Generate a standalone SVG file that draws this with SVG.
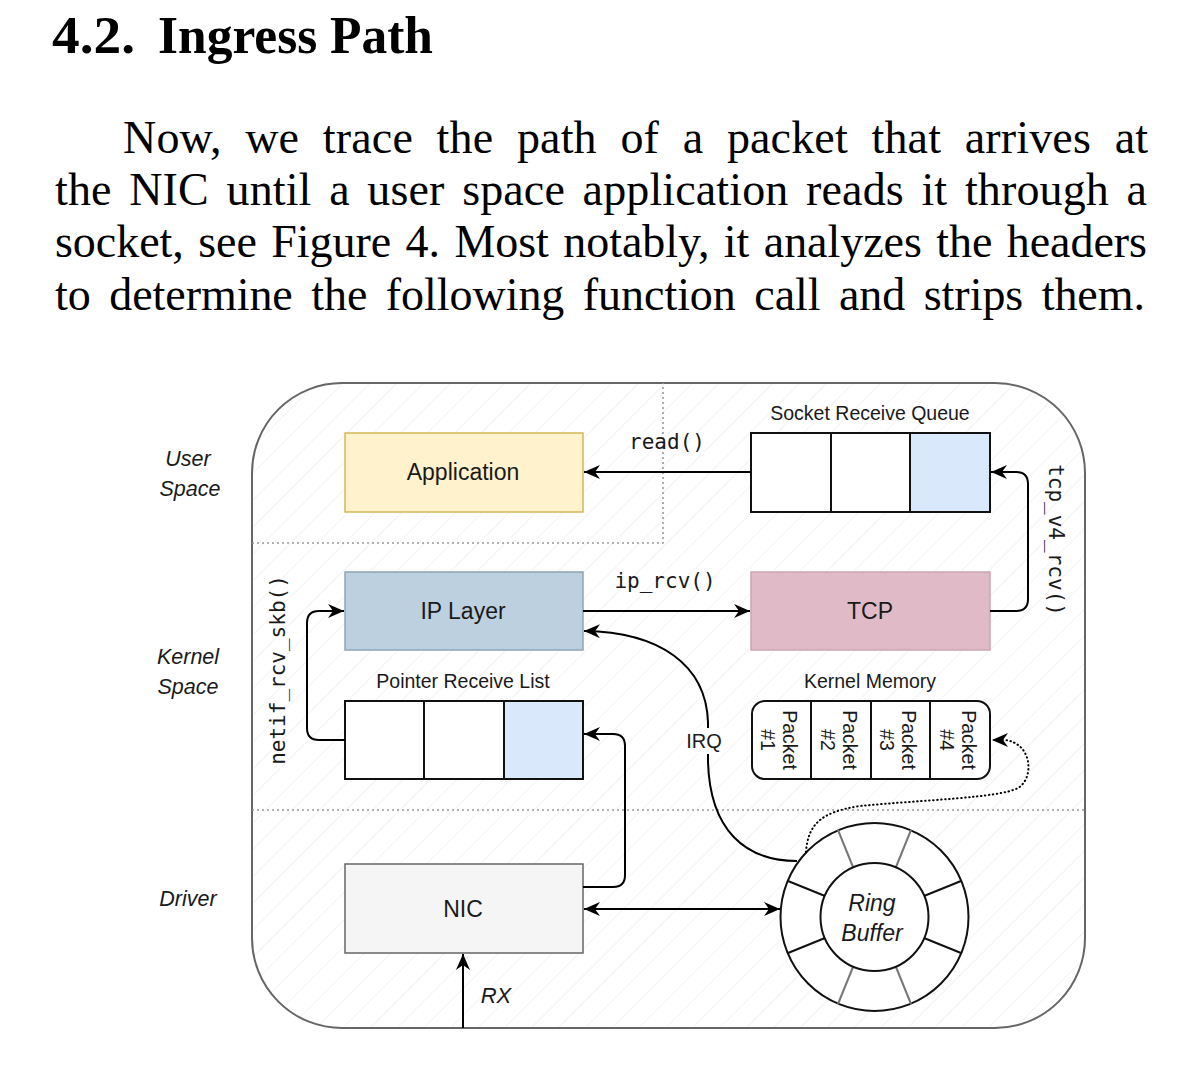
<svg xmlns="http://www.w3.org/2000/svg" width="1200" height="1082" viewBox="0 0 1200 1082">
<style>
.ser{font-family:"Liberation Serif","Times New Roman",serif;fill:#000}
.para{font-family:"Liberation Serif","Times New Roman",serif;fill:#000;font-size:46px}
.sans{font-family:"Liberation Sans",Arial,Helvetica,sans-serif;fill:#1a1a1a}
.mono{font-family:"DejaVu Sans Mono","Liberation Mono",monospace;fill:#1a1a1a;font-size:21px}
.lbl{font-size:19.5px;text-anchor:middle}
.big{font-size:23px;text-anchor:middle}
.side{font-size:21.5px;font-style:italic;text-anchor:middle}
.cell{fill:#fff;stroke:#111;stroke-width:2}
.cellb{fill:#dae8fc;stroke:#111;stroke-width:2}
.conn{fill:none;stroke:#000;stroke-width:2}
.dot{fill:none;stroke:#999;stroke-width:1.6;stroke-dasharray:2 3}
.spk{stroke:#111;stroke-width:2}
.spkg{stroke:#777;stroke-width:2}
</style>
<defs>
<pattern id="hatch" width="19" height="19" patternUnits="userSpaceOnUse" patternTransform="rotate(45)">
<rect width="19" height="19" fill="#fff"/>
<line x1="0" y1="0" x2="0" y2="19" stroke="#efefef" stroke-width="1.5"/>
</pattern>
<marker id="arr" viewBox="0 0 16 14" refX="16" refY="7" markerWidth="16" markerHeight="14" markerUnits="userSpaceOnUse" orient="auto-start-reverse">
<path d="M0,0 L16,7 L0,14 L5,7 z" fill="#000"/>
</marker>
</defs>

<g id="heading">
<text class="ser" x="52" y="53" font-size="52" font-weight="bold" textLength="83" lengthAdjust="spacingAndGlyphs">4.2.</text>
<text class="ser" x="158" y="53" font-size="52" font-weight="bold" textLength="275" lengthAdjust="spacingAndGlyphs">Ingress Path</text>
</g>
<g id="paragraph">
<text class="para" x="123" y="153" word-spacing="12" textLength="1025" lengthAdjust="spacing">Now, we trace the path of a packet that arrives at</text>
<text class="para" x="55" y="205" word-spacing="6" textLength="1092" lengthAdjust="spacing">the NIC until a user space application reads it through a</text>
<text class="para" x="55" y="257" word-spacing="3" textLength="1092" lengthAdjust="spacing">socket, see Figure 4. Most notably, it analyzes the headers</text>
<text class="para" x="55" y="310" word-spacing="7" textLength="1090" lengthAdjust="spacing">to determine the following function call and strips them.</text>
</g>

<g id="container">
<rect x="252" y="383" width="833" height="645" rx="90" ry="90" fill="url(#hatch)" stroke="#666" stroke-width="2"/>
<path class="dot" d="M252,543 L663,543 L663,383"/>
<path class="dot" d="M252,810 L1085,810"/>
</g>

<g id="layer-labels">
<text class="sans side" x="188" y="466">User</text>
<text class="sans side" x="190" y="496">Space</text>
<text class="sans side" x="188" y="664">Kernel</text>
<text class="sans side" x="188" y="694">Space</text>
<text class="sans side" x="188" y="906">Driver</text>
</g>

<g id="application">
<rect x="345" y="433" width="238" height="79" fill="#fff2cc" stroke="#d6b656" stroke-width="1.5"/>
<text class="sans big" x="463" y="480">Application</text>
</g>

<g id="socket-receive-queue">
<text class="sans lbl" x="870" y="420">Socket Receive Queue</text>
<rect class="cell" x="751" y="433" width="80" height="79"/>
<rect class="cell" x="831" y="433" width="79" height="79"/>
<rect class="cellb" x="910" y="433" width="80" height="79"/>
</g>

<g id="ip-layer">
<rect x="345" y="572" width="238" height="78" fill="#bdd0df" stroke="#8fa4b4" stroke-width="1.5"/>
<text class="sans big" x="463" y="619">IP Layer</text>
</g>

<g id="tcp">
<rect x="751" y="572" width="239" height="78" fill="#e0bbc7" stroke="#cda5b3" stroke-width="1.5"/>
<text class="sans big" x="870" y="619">TCP</text>
</g>

<g id="pointer-receive-list">
<text class="sans lbl" x="463" y="688">Pointer Receive List</text>
<rect class="cell" x="345" y="701" width="79" height="78"/>
<rect class="cell" x="424" y="701" width="80" height="78"/>
<rect class="cellb" x="504" y="701" width="79" height="78"/>
</g>

<g id="kernel-memory">
<text class="sans lbl" x="870" y="688">Kernel Memory</text>
<rect x="752" y="701" width="238" height="78" rx="13" ry="13" fill="#fff" stroke="#111" stroke-width="2"/>
<line class="spk" x1="811" y1="701" x2="811" y2="779"/>
<line class="spk" x1="871" y1="701" x2="871" y2="779"/>
<line class="spk" x1="930" y1="701" x2="930" y2="779"/>
<text class="sans" font-size="19.5" text-anchor="middle" transform="translate(790,740) rotate(90)" y="7">Packet</text>
<text class="sans" font-size="19.5" text-anchor="middle" transform="translate(768,740) rotate(90)" y="7">#1</text>
<text class="sans" font-size="19.5" text-anchor="middle" transform="translate(850,740) rotate(90)" y="7">Packet</text>
<text class="sans" font-size="19.5" text-anchor="middle" transform="translate(828,740) rotate(90)" y="7">#2</text>
<text class="sans" font-size="19.5" text-anchor="middle" transform="translate(909,740) rotate(90)" y="7">Packet</text>
<text class="sans" font-size="19.5" text-anchor="middle" transform="translate(887,740) rotate(90)" y="7">#3</text>
<text class="sans" font-size="19.5" text-anchor="middle" transform="translate(969,740) rotate(90)" y="7">Packet</text>
<text class="sans" font-size="19.5" text-anchor="middle" transform="translate(947,740) rotate(90)" y="7">#4</text>
</g>

<g id="nic">
<rect x="345" y="864" width="238" height="89" fill="#f5f5f5" stroke="#666" stroke-width="1.5"/>
<text class="sans big" x="463" y="917">NIC</text>
</g>

<g id="ring-buffer">
<circle cx="874.5" cy="917" r="94" fill="#fff" stroke="#111" stroke-width="2"/>
<line class="spkg" x1="853" y1="867" x2="838" y2="830"/>
<line class="spkg" x1="896" y1="867" x2="911" y2="830"/>
<line class="spk" x1="924" y1="896" x2="961" y2="881"/>
<line class="spk" x1="924" y1="938" x2="961" y2="953"/>
<line class="spkg" x1="896" y1="967" x2="911" y2="1004"/>
<line class="spkg" x1="853" y1="967" x2="838" y2="1004"/>
<line class="spk" x1="825" y1="938" x2="788" y2="953"/>
<line class="spk" x1="825" y1="896" x2="788" y2="881"/>
<circle cx="874.5" cy="917" r="54" fill="#fff" stroke="#111" stroke-width="2"/>
<text class="sans big" font-style="italic" x="872" y="911">Ring</text>
<text class="sans big" font-style="italic" x="872" y="941">Buffer</text>
</g>

<g id="connectors">
<path class="conn" d="M751,472 L584,472" marker-end="url(#arr)"/>
<text class="mono" x="667" y="449" text-anchor="middle">read()</text>
<path class="conn" d="M990,611 L1016,611 Q1028,611 1028,599 L1028,484 Q1028,472 1016,472 L991,472" marker-end="url(#arr)"/>
<text class="mono" transform="translate(1056,540) rotate(90)" text-anchor="middle" y="7">tcp_v4_rcv()</text>
<path class="conn" d="M583,611 L750,611" marker-end="url(#arr)"/>
<text class="mono" x="665" y="588" text-anchor="middle">ip_rcv()</text>
<path class="conn" d="M345,740 L319,740 Q307,740 307,728 L307,623 Q307,611 319,611 L344,611" marker-end="url(#arr)"/>
<text class="mono" transform="translate(278,670) rotate(-90)" text-anchor="middle" y="7">netif_rcv_skb()</text>
<path class="conn" d="M583,887 L613,887 Q625,887 625,875 L625,746 Q625,734 613,734 L584,734" marker-end="url(#arr)"/>
<path class="conn" d="M797,861 C745,861 710,830 708,762 L708,722 C706,665 660,632 584,631" marker-end="url(#arr)"/>
<rect x="684" y="728" width="40" height="26" fill="#fff"/>
<text class="sans" x="704" y="748" font-size="20" text-anchor="middle">IRQ</text>
<path class="conn" d="M584,909 L780,909" marker-start="url(#arr)" marker-end="url(#arr)"/>
<path class="conn" d="M463,1028 L463,954" marker-end="url(#arr)"/>
<text class="sans" x="496" y="1003" font-size="22" font-style="italic" text-anchor="middle">RX</text>
<path d="M806,852 C808,825 820,812 860,806 C920,800 1000,798 1018,788 C1035,778 1032,742 1004,740 L992,740" fill="none" stroke="#000" stroke-width="2" stroke-dasharray="0.5 3.5" stroke-linecap="round" marker-end="url(#arr)"/>
</g>
</svg>
